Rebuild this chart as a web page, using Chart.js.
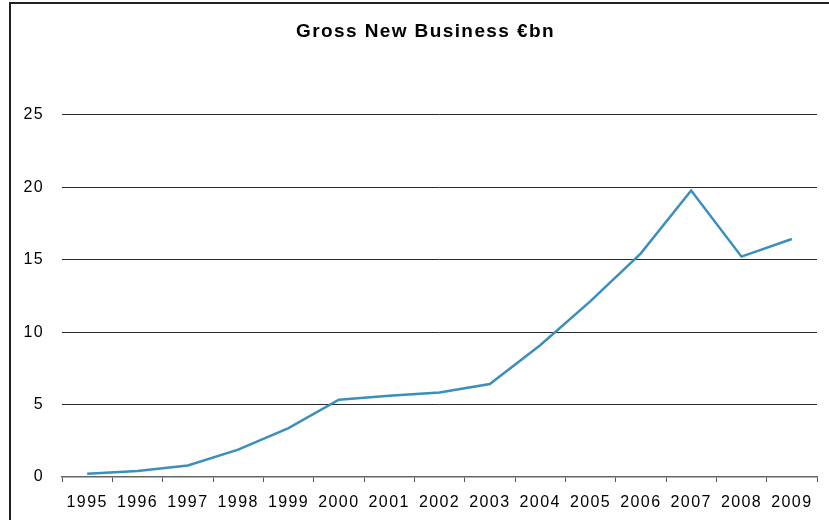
<!DOCTYPE html>
<html>
<head>
<meta charset="utf-8">
<script src="https://cdn.jsdelivr.net/npm/chart.js@4/dist/chart.umd.min.js"></script>
<style>
  html, body { margin: 0; padding: 0; background: #fff; }
  #wrap { position: relative; width: 829px; height: 520px; overflow: hidden; }
  #frame { position: absolute; left: 9px; top: 2px; right: -4px; bottom: -4px;
           border-left: 2px solid #222; border-top: 2px solid #222; }
  canvas { position: absolute; left: 0; top: 0; }
</style>
</head>
<body>
<div id="wrap">
  <div id="frame"></div>
  <canvas id="c" width="829" height="520"></canvas>
</div>
<script>
// Gross new business by year, € billions
const years = ['1995','1996','1997','1998','1999','2000','2001','2002','2003','2004','2005','2006','2007','2008','2009'];
const grossNewBusiness = [0.23, 0.41, 0.80, 1.89, 3.38, 5.34, 5.60, 5.83, 6.42, 9.10, 12.14, 15.44, 19.77, 15.21, 16.43];
const yTicks = [0, 5, 10, 15, 20, 25];
const chartTitle = 'Gross New Business €bn';

const FONT = '"Liberation Sans", Arial, Helvetica, sans-serif';

// slightly wider text spacing for all canvas text
const spacing = {
  id: 'spacing',
  beforeUpdate(chart) { chart.ctx.letterSpacing = '1.4px'; },
  beforeRender(chart) { chart.ctx.letterSpacing = '1.4px'; }
};

// centre the title over the plot area rather than the whole canvas
const titleOverPlot = {
  id: 'titleOverPlot',
  afterLayout(chart) {
    const t = chart.titleBlock;
    if (t) {
      t.left = 34;
      t.right = chart.chartArea.right;
      t.width = t.right - t.left;
    }
  }
};

new Chart(document.getElementById('c'), {
  type: 'line',
  data: {
    labels: years,
    datasets: [{
      data: grossNewBusiness,
      borderColor: '#3a8fbb',
      borderWidth: 2.5,
      pointRadius: 0,
      tension: 0,
      fill: false
    }]
  },
  options: {
    responsive: false,
    animation: false,
    devicePixelRatio: 1,
    layout: { padding: { left: 0, right: 12, top: 0, bottom: 0 } },
    plugins: {
      legend: { display: false },
      tooltip: { enabled: false },
      title: {
        display: true,
        text: chartTitle,
        color: '#000',
        font: { family: FONT, size: 19, weight: 'bold', lineHeight: 1.2 },
        padding: { top: 20, bottom: 72 }
      }
    },
    scales: {
      x: {
        offset: true,
        grid: {
          display: true,
          offset: true,
          drawOnChartArea: false,
          drawTicks: true,
          tickLength: 5,
          color: '#555',
          lineWidth: 1
        },
        border: { display: true, color: '#666', width: 1.5 },
        ticks: {
          color: '#000',
          padding: 11,
          maxRotation: 0,
          autoSkip: false,
          font: { family: FONT, size: 16 }
        },
        afterFit(scale) { scale.height = 43; }
      },
      y: {
        min: 0,
        max: 25,
        afterBuildTicks(scale) { scale.ticks = yTicks.map(v => ({ value: v })); },
        grid: {
          drawTicks: false,
          color: ctx => (ctx.tick && ctx.tick.value === 0) ? 'rgba(0,0,0,0)' : '#2a2a2a',
          lineWidth: 1
        },
        border: { display: false },
        ticks: {
          color: '#000',
          padding: 18,
          font: { family: FONT, size: 16 }
        },
        afterFit(scale) { scale.width = 62; }
      }
    }
  },
  plugins: [spacing, titleOverPlot]
});
</script>
</body>
</html>
